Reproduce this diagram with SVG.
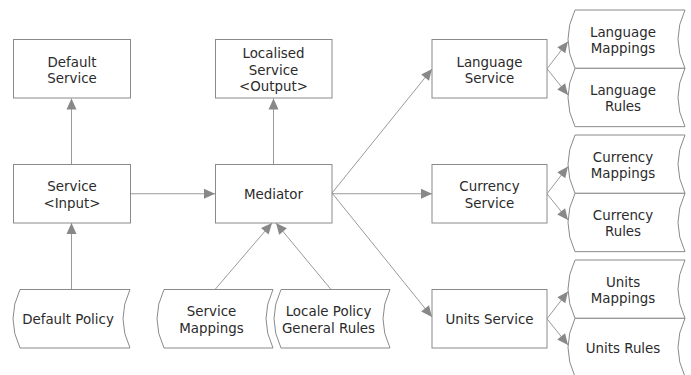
<svg xmlns="http://www.w3.org/2000/svg" width="691" height="375" viewBox="0 0 691 375">
<style>
.box{fill:#fff;stroke:#8a8a8a;stroke-width:1}
.doc{fill:#fff;stroke:#8a8a8a;stroke-width:1}
.t{font-family:"DejaVu Sans",Verdana,sans-serif;font-size:13.4px;fill:#2b2b2b;text-anchor:middle}
.c{fill:none;stroke:#9a9a9a;stroke-width:1;marker-end:url(#ah)}
</style>
<defs>
<marker id="ah" markerUnits="userSpaceOnUse" markerWidth="11" markerHeight="10" refX="11" refY="5" orient="auto" overflow="visible">
<path d="M0,0 L11,5 L0,10 z" fill="#888"/>
</marker>
</defs>
<rect width="691" height="375" fill="#fff"/>
<g id="connectors">
<path class="c" d="M71.5,164.5 L71.5,98.5"/>
<path class="c" d="M273.5,164.5 L273.5,98.5"/>
<path class="c" d="M71.5,289.5 L71.5,223"/>
<path class="c" d="M130,193.75 L215,193.75"/>
<path class="c" d="M215,289.5 L272,223"/>
<path class="c" d="M331,289.5 L276,223"/>
<path class="c" d="M332,193 L432,69"/>
<path class="c" d="M332,193.75 L432,193.75"/>
<path class="c" d="M332,193 L432,317"/>
<path class="c" d="M547,68.75 L568,41.5"/>
<path class="c" d="M547,68.75 L568,95"/>
<path class="c" d="M547,193.75 L568,166.5"/>
<path class="c" d="M547,193.75 L568,220"/>
<path class="c" d="M547,318.75 L568,291.5"/>
<path class="c" d="M547,318.75 L568,345"/>
</g>
<g id="default-service">
<rect class="box" x="13.5" y="39.5" width="117" height="58.5"/>
<text class="t" x="72" y="66.5">Default</text>
<text class="t" x="72" y="83">Service</text>
</g>
<g id="localised-service">
<rect class="box" x="215.5" y="39.5" width="116.5" height="58.5"/>
<text class="t" x="273.5" y="58">Localised</text>
<text class="t" x="273.5" y="74.5">Service</text>
<text class="t" x="273.5" y="91">&lt;Output&gt;</text>
</g>
<g id="service-input">
<rect class="box" x="13.5" y="164.5" width="117" height="58.5"/>
<text class="t" x="72" y="191">Service</text>
<text class="t" x="72" y="207.5">&lt;Input&gt;</text>
</g>
<g id="mediator">
<rect class="box" x="215.5" y="164.5" width="116.5" height="58.5"/>
<text class="t" x="273.5" y="199">Mediator</text>
</g>
<g id="language-service">
<rect class="box" x="432" y="39.5" width="115" height="58.5"/>
<text class="t" x="489.5" y="66.5">Language</text>
<text class="t" x="489.5" y="83">Service</text>
</g>
<g id="currency-service">
<rect class="box" x="432" y="164.5" width="115" height="58.5"/>
<text class="t" x="489.5" y="191">Currency</text>
<text class="t" x="489.5" y="207.5">Service</text>
</g>
<g id="units-service">
<rect class="box" x="432" y="289.5" width="115" height="58.5"/>
<text class="t" x="489.5" y="324">Units Service</text>
</g>
<g id="default-policy">
<path class="doc" d="M20,289.5 L130,289.5 Q116,318.75 130,348 L20,348 Q6,318.75 20,289.5 Z"/>
<text class="t" x="68" y="324.3">Default Policy</text>
</g>
<g id="service-mappings">
<path class="doc" d="M164,289.5 L273,289.5 Q259,318.75 273,348 L164,348 Q150,318.75 164,289.5 Z"/>
<text class="t" x="211.5" y="316">Service</text>
<text class="t" x="211.5" y="332.5">Mappings</text>
</g>
<g id="locale-policy">
<path class="doc" d="M281,289.5 L390,289.5 Q376,318.75 390,348 L281,348 Q267,318.75 281,289.5 Z"/>
<text class="t" x="328.5" y="316">Locale Policy</text>
<text class="t" x="328.5" y="332.5">General Rules</text>
</g>
<g id="language-mappings">
<path class="doc" d="M575,10 L685,10 Q671,39.17 685,68.33 L575,68.33 Q561,39.17 575,10 Z"/>
<text class="t" x="623" y="36.5">Language</text>
<text class="t" x="623" y="53">Mappings</text>
</g>
<g id="language-rules">
<path class="doc" d="M575,68.33 L685,68.33 Q671,97.5 685,126.67 L575,126.67 Q561,97.5 575,68.33 Z"/>
<text class="t" x="623" y="94.8">Language</text>
<text class="t" x="623" y="111.3">Rules</text>
</g>
<g id="currency-mappings">
<path class="doc" d="M575,135 L685,135 Q671,164.17 685,193.33 L575,193.33 Q561,164.17 575,135 Z"/>
<text class="t" x="623" y="161.5">Currency</text>
<text class="t" x="623" y="178">Mappings</text>
</g>
<g id="currency-rules">
<path class="doc" d="M575,193.33 L685,193.33 Q671,222.5 685,251.67 L575,251.67 Q561,222.5 575,193.33 Z"/>
<text class="t" x="623" y="219.8">Currency</text>
<text class="t" x="623" y="236.3">Rules</text>
</g>
<g id="units-mappings">
<path class="doc" d="M575,260 L685,260 Q671,289.17 685,318.33 L575,318.33 Q561,289.17 575,260 Z"/>
<text class="t" x="623" y="286.5">Units</text>
<text class="t" x="623" y="303">Mappings</text>
</g>
<g id="units-rules">
<path class="doc" d="M575,318.33 L685,318.33 Q671,347.5 685,376.67 L575,376.67 Q561,347.5 575,318.33 Z"/>
<text class="t" x="623" y="353">Units Rules</text>
</g>
</svg>
